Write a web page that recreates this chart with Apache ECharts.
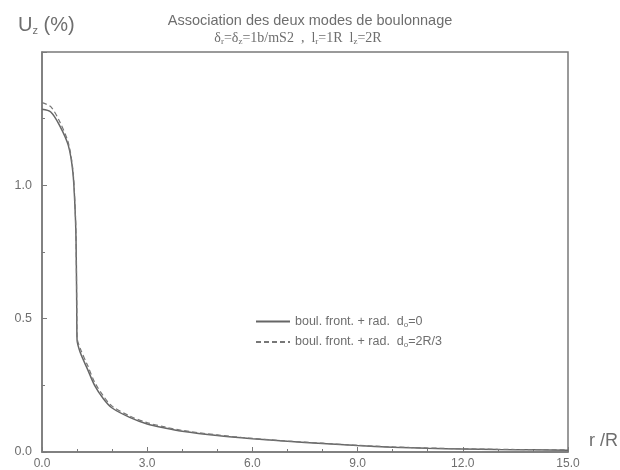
<!DOCTYPE html>
<html><head><meta charset="utf-8">
<script src="https://cdn.jsdelivr.net/npm/echarts@6/dist/echarts.min.js"></script>
<style>html,body{margin:0;padding:0;background:#fff}#c{width:620px;height:470px}</style>
</head><body><div id="c"></div>
<script>
const rValues = [0, 0.25, 0.5, 0.75, 0.88, 0.94, 0.97, 0.99, 1.0, 1.1, 1.3, 1.5, 1.75, 2.0, 2.5, 3.0, 3.5, 4.0, 5.0, 6.0, 7.0, 8.0, 9.0, 10, 11, 12, 13, 14, 15];
const uzSolid = [1.285, 1.275, 1.225, 1.15, 1.05, 0.92, 0.80, 0.55, 0.42, 0.37, 0.31, 0.25, 0.20, 0.165, 0.13, 0.105, 0.09, 0.078, 0.062, 0.05, 0.04, 0.032, 0.024, 0.018, 0.014, 0.011, 0.009, 0.008, 0.007];
const uzDashed = [1.31, 1.295, 1.24, 1.16, 1.06, 0.93, 0.81, 0.56, 0.43, 0.385, 0.325, 0.262, 0.21, 0.172, 0.135, 0.11, 0.094, 0.081, 0.064, 0.051, 0.041, 0.033, 0.025, 0.019, 0.015, 0.012, 0.010, 0.009, 0.008];
const seriesNames = ['boul. front. + rad.  d0=0', 'boul. front. + rad.  d0=2R/3'];
const legendLabels = {'boul. front. + rad.  d0=0': 'boul. front. + rad.  d{s|o}=0', 'boul. front. + rad.  d0=2R/3': 'boul. front. + rad.  d{s|o}=2R/3'};

const gray = '#7a7a7a';
const textGray = '#6e6e6e';
const font = 'Liberation Sans, Arial, sans-serif';
const serif = 'Liberation Serif, Times New Roman, serif';
const pair = (xs, ys) => xs.map((x, i) => [x, ys[i]]);

const chart = echarts.init(document.getElementById('c'));
chart.setOption({
  animation: false,
  backgroundColor: '#fff',
  grid: {left: 42, right: 52, top: 52, bottom: 18, show: true, borderColor: gray, borderWidth: 1.5},
  title: [{
    text: 'Association des deux modes de boulonnage',
    left: 305, top: 8, textAlign: 'center',
    textStyle: {fontFamily: font, fontSize: 14.5, fontWeight: 'normal', color: textGray}
  }, {
    text: '{t|δ}{s|r}{t|=δ}{s|z}{t|=1b/mS2  ,  l}{s|r}{t|=1R  l}{s|z}{t|=2R}',
    left: 293, top: 25, textAlign: 'center',
    textStyle: {fontWeight: 'normal', rich: {
      t: {fontFamily: serif, fontSize: 14, fontWeight: 'normal', color: textGray},
      s: {fontFamily: serif, fontSize: 9, fontWeight: 'normal', color: textGray, padding: [7, 0, 0, 0]}
    }}
  }, {
    text: '{t|U}{s|z}{t| (%)}',
    left: 13, top: 10,
    textStyle: {fontWeight: 'normal', rich: {
      t: {fontFamily: font, fontSize: 20, fontWeight: 'normal', color: textGray},
      s: {fontFamily: font, fontSize: 11, fontWeight: 'normal', color: textGray, padding: [10, 0, 0, 0]}
    }}
  }, {
    text: 'r /R',
    left: 584, top: 427,
    textStyle: {fontFamily: font, fontSize: 18, fontWeight: 'normal', color: textGray}
  }],
  legend: {
    orient: 'vertical', left: 250, top: 310, itemWidth: 34, itemHeight: 10, itemGap: 7,
    data: seriesNames,
    itemStyle: {opacity: 0},
    formatter: n => legendLabels[n],
    textStyle: {fontFamily: font, fontSize: 12.5, color: textGray,
      rich: {s: {fontFamily: font, fontSize: 8, color: textGray, padding: [6, 0, 0, 0]}}}
  },
  xAxis: {
    type: 'value', min: 0, max: 15, interval: 3,
    axisLine: {show: true, lineStyle: {color: gray, width: 1.5}},
    axisTick: {show: true, inside: true, length: 5, lineStyle: {color: gray}},
    minorTick: {show: true, splitNumber: 3, length: 3, lineStyle: {color: gray}},
    splitLine: {show: false},
    axisLabel: {margin: 6, fontFamily: font, fontSize: 12, color: textGray, formatter: v => v.toFixed(1)}
  },
  yAxis: {
    type: 'value', min: 0, max: 1.5, interval: 0.5,
    axisLine: {show: true, lineStyle: {color: gray, width: 1.5}},
    axisTick: {show: true, inside: true, length: 5, lineStyle: {color: gray}},
    minorTick: {show: true, splitNumber: 2, length: 3, lineStyle: {color: gray}},
    splitLine: {show: false},
    axisLabel: {margin: 10, fontFamily: font, fontSize: 12.5, color: textGray,
      formatter: v => v === 1.5 ? '' : v.toFixed(1)}
  },
  series: [{
    name: seriesNames[0], type: 'line', symbol: 'none', smooth: 0.3,
    data: pair(rValues, uzSolid),
    lineStyle: {color: '#666', width: 1.5},
    itemStyle: {color: '#666'}
  }, {
    name: seriesNames[1], type: 'line', symbol: 'none', smooth: 0.3,
    data: pair(rValues, uzDashed),
    lineStyle: {color: '#777', width: 1.2, type: [5, 3]},
    itemStyle: {color: '#777'}
  }]
});
</script></body></html>
